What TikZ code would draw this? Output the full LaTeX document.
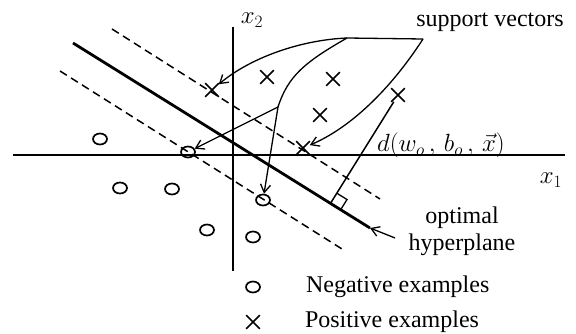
\documentclass[tikz,border=0pt]{standalone}
\usepackage{fontspec}
\setmainfont{Liberation Serif}
\usetikzlibrary{arrows.meta, positioning, calc, shapes.geometric, shapes.misc}

\begin{document}
\begin{tikzpicture}[x=1pt,y=-1pt,font=\fontsize{24}{27}\selectfont,
  axis/.style={line width=1.5pt},
  plane/.style={line width=2.8pt},
  margin/.style={line width=1.5pt,dash pattern=on 8pt off 5pt},
  negpt/.style={draw,ellipse,line width=1.7pt,inner sep=0pt,
              minimum width=14pt,minimum height=11pt},
  pospt/.style={draw,cross out,line width=1.6pt,inner sep=0pt,minimum size=12pt},
  ptr/.style={line width=1.3pt,-{Straight Barb[length=8pt,width=10pt]}},
  lbl/.style={inner sep=0pt}]
\useasboundingbox (0,0) rectangle (576,334);

% ===== Axes =====
\draw[axis] (13,155) -- (565,155);
\draw[axis] (233,27) -- (233,271);
\node[lbl] (xa) at (551,180) {$x_1$};
\node[lbl] (xb) at (252,20) {$x_2$};

% ===== Hyperplane and margins =====
\coordinate (hA) at (73,43);
\coordinate (hB) at (370,228);
\draw[plane] (hA) -- (hB);
\draw[margin] (112,29) -- (380,199);
\draw[margin] (60,71) -- (342,249);

% ===== Positive examples =====
\node[pospt] (p1) at (212,90) {};
\node[pospt] (p2) at (303,148) {};
\node[pospt] (p3) at (267,77) {};
\node[pospt] (p4) at (333,79) {};
\node[pospt] (p5) at (320,115) {};
\node[pospt] (p6) at (398,95) {};

% ===== Negative examples =====
\node[negpt] (n1) at (188,152) {};
\node[negpt] (n2) at (263,200) {};
\node[negpt] (n3) at (100,139) {};
\node[negpt] (n4) at (120,188) {};
\node[negpt] (n5) at (172,189) {};
\node[negpt] (n6) at (207,230) {};
\node[negpt] (n7) at (253,237) {};

% ===== Distance to the hyperplane =====
\coordinate (ft) at ($(hA)!(p6)!(hB)$);
\coordinate (ra1) at ($(ft)!12pt!(hB)$);
\coordinate (ra2) at ($(ft)!12pt!(p6)$);
\draw[axis] (p6) -- (ft);
\draw[line width=1.3pt] (ra1) -- ($(ra1)+(ra2)-(ft)$) -- (ra2);
\node[lbl,anchor=base west,font=\fontsize{26}{28}\selectfont] (dl) at (377,152)
  {$d(w_{o}\,,\,b_{o}\,,\,\vec{x})$};

% ===== Support vectors =====
\node[lbl] (sv) at (490,22) {support vectors};
\coordinate (j1) at (347,38);
\coordinate (j2) at (423,39);
\coordinate (j3) at (278,107);
\draw[line width=1.3pt] (j1) -- (j2);
\draw[ptr] (j1) .. controls (300,40) and (250,58) .. (p1);
\draw[line width=1.3pt] (j1) .. controls (305,62) and (288,76) .. (j3);
\draw[ptr] (j3) -- (n2);
\draw[ptr] (j3) -- (n1);
\draw[ptr] (j2) .. controls (390,90) and (350,128) .. (p2);

% ===== Optimal hyperplane =====
\node[lbl,align=center] (hp) at (462,231) {optimal\\hyperplane};
\coordinate (hpt) at (395,238);
\draw[ptr] (hpt) -- (hB);

% ===== Legend =====
\node[negpt] (lgn) at (253,287) {};
\node[lbl,right=45pt of lgn] (lgnt) {Negative examples};
\node[pospt] (lgp) at (253,322) {};
\node[lbl,right=45pt of lgp] (lgpt) {Positive examples};
\end{tikzpicture}
\end{document}
